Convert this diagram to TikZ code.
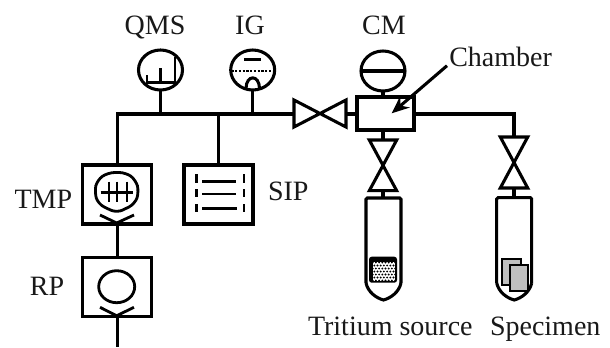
\documentclass[tikz,border=0pt]{standalone}
\usepackage{fontspec}
\setmainfont{Liberation Serif}
\usetikzlibrary{shapes.geometric,arrows.meta}
\tikzset{
  pipe/.style={line width=2.4pt,line cap=butt,line join=miter},
  thin pipe/.style={line width=2.1pt},
  lbl/.style={anchor=base,inner sep=0pt,outer sep=0pt,font=\fontsize{21}{21}\selectfont,text=black!90},
  pumpbox/.style={draw,line width=2.4pt,rectangle,inner sep=0pt,outer sep=0pt,minimum width=51.75pt,minimum height=44.25pt},
  gauge/.style={draw,line width=2.3pt,ellipse,inner sep=0pt,outer sep=0pt,minimum width=33pt,minimum height=30pt},
  valve/.style={line width=2.3pt,line join=miter},
  sample/.style={draw,line width=1.5pt,fill=black!25},
}
\begin{document}
\begin{tikzpicture}[x=0.75pt,y=-0.75pt]
\useasboundingbox (0,0) rectangle (610,347);
\fill[white] (0,0) rectangle (610,347);
% labels
\node[lbl] (qmsl) at (155,34) {QMS};
\node[lbl] (igl) at (250,34) {IG};
\node[lbl] (cml) at (384,34) {CM};
\node[lbl,anchor=base west] (chl) at (449.3,66.7) {Chamber};
\node[lbl] (tmpl) at (43.3,208.3) {TMP};
\node[lbl] (rpl) at (47,295) {RP};
\node[lbl,anchor=base west] (sipl) at (268,200.7) {SIP};
\node[lbl,anchor=base west] (trl) at (308,335) {Tritium source};
\node[lbl,anchor=base west] (spl) at (490,335) {Specimen};
% gauges
\node[gauge] (qms) at (160.5,70) {};
\node[gauge] (ig) at (252.7,70) {};
\node[gauge] (cm) at (383,71) {};
% pump boxes
\node[pumpbox] (tmp) at (117.2,194.5) {};
\node[pumpbox] (rp) at (117.2,287.2) {};
\node[pumpbox] (sip) at (218.5,194.5) {};
% chamber
\node[draw,line width=3pt,rectangle,inner sep=0pt,outer sep=0pt,minimum width=43pt,minimum height=25pt] (chamber) at (385.3,113.4) {};
% junctions and free ends
\coordinate (jl) at (tmp.north |- 0,114);
\coordinate (js) at (sip.north |- 0,114);
\coordinate (jq) at (qms.south |- 0,114);
\coordinate (ji) at (ig.south |- 0,114);
\coordinate (vhl) at (294,114);
\coordinate (vhr) at (346,114);
\coordinate (vat) at (383,140);
\coordinate (vab) at (383,190.7);
\coordinate (vbt) at (514,137);
\coordinate (vbb) at (514,188);
\coordinate (tat) at (383,198);
\coordinate (tbt) at (514,197.7);
\coordinate (rend) at (rp.south |- 0,346.7);
\coordinate (cornerr) at (vbt |- 0,114);
% pipes
\draw[pipe] (tmp.north) -- (jl) -- (vhl);
\draw[pipe] (jq) -- (qms.south);
\draw[pipe] (ji) -- (ig.south);
\draw[pipe] (js) -- (sip.north);
\draw[pipe] (vhr) -- (chamber.west |- vhr);
\draw[pipe] (chamber.east |- cornerr) -- (cornerr) -- (vbt);
\draw[pipe] (cm.south) -- (cm.south |- chamber.north);
\draw[pipe] (vat) -- (vat |- chamber.south);
\draw[pipe] (vab) -- (tat);
\draw[pipe] (vbb) -- (tbt);
\draw[pipe] (tmp.south) -- (rp.north);
\draw[pipe] (rp.south) -- (rend);
% valves
\draw[valve] (294,100) -- (346,127) -- (346,100) -- (294,127) -- cycle;
\draw[valve] (369.3,140) -- (396.7,140) -- (369.3,190.7) -- (396.7,190.7) -- cycle;
\draw[valve] (500.3,137) -- (527.7,137) -- (500.3,188) -- (527.7,188) -- cycle;
% QMS inside
\draw[thin pipe] (147,75) -- (147,82.7) -- (175,82.7) -- (175,56.7);
\draw[thin pipe] (160.5,68) -- (160.5,82.7);
% IG inside
\draw[thin pipe] (244,59.3) -- (261,59.3);
\draw[line width=1.9pt,dash pattern=on 1.6pt off 1.2pt] (231.5,71) -- (274,71);
\draw[line width=2.3pt] (246,88) .. controls (246.5,74.5) and (259,74.5) .. (259.5,88);
% CM inside
\draw[pipe] (cm.west) -- (cm.east);
% Chamber arrow
\coordinate (archt) at (447,65.7);
\coordinate (archh) at (391.7,113.3);
\draw[line width=2.3pt,-{Stealth[length=13pt,width=11pt]}] (archt) -- (archh);
% TMP inside
\draw[thin pipe,rounded corners=5pt] (94.5,192) -- (97,180) -- (108,172.5) -- (126,172.5) -- (136,180) -- (139,192) -- (135,204) -- (116.7,213) -- (98,204) -- cycle;
\draw[pipe] (100.7,192.7) -- (133.3,192.7);
\draw[thin pipe] (109,181.7) -- (109,201.7) (117,181.7) -- (117,201.7) (127,181.7) -- (127,201.7);
\draw[thin pipe] (100,215) -- (116.7,223) -- (134,215);
% RP inside
\node[draw,thin pipe,ellipse,inner sep=0pt,outer sep=0pt,minimum width=27pt,minimum height=24pt] (rpc) at (116.7,286.7) {};
\draw[thin pipe] (100,307.3) -- (116.7,315.7) -- (134,307.3);
% SIP inside
\draw[thin pipe] (202,181.7) -- (236,181.7) (202,194) -- (236,194) (202,208.3) -- (237,208.3);
\draw[thin pipe] (196.7,174) -- (196.7,182.7) (196.7,189.3) -- (196.7,197.3) (196.7,204) -- (196.7,212.3);
\draw[thin pipe] (244,174) -- (244,182.7) (244,189.3) -- (244,197.3) (244,204) -- (244,212.3);
% tubes
\draw[valve,rounded corners=1pt] (366,283) -- (366,198) -- (401,198) -- (401,283);
\draw[valve] (366,283) .. controls (368,292) and (376,298) .. (383.5,300) .. controls (391,298) and (399,292) .. (401,283);
\draw[valve,rounded corners=1pt] (496.7,283) -- (496.7,197.7) -- (531.7,197.7) -- (531.7,283);
\draw[valve] (496.7,283) .. controls (498.7,292) and (506.7,298) .. (514.2,300) .. controls (521.7,298) and (529.7,292) .. (531.7,283);
% tritium source
\fill[black,rounded corners=2pt] (369,256.7) rectangle (397,282.7);
\fill[white] (372.7,262) rectangle (395,280.7);
\begin{scope}
\clip (372.7,262) rectangle (395,280.7);
\foreach \i in {0,...,7}{\foreach \j in {0,...,6}{
  \fill[black] ({372.7+\i*3.2+mod(\j,2)*1.6},{262.5+\j*3}) circle[radius=1.05];
}}
\end{scope}
% specimens
\draw[sample] (502,259) rectangle (521,285);
\draw[sample] (510,265) rectangle (527.7,291);
\end{tikzpicture}
\end{document}
